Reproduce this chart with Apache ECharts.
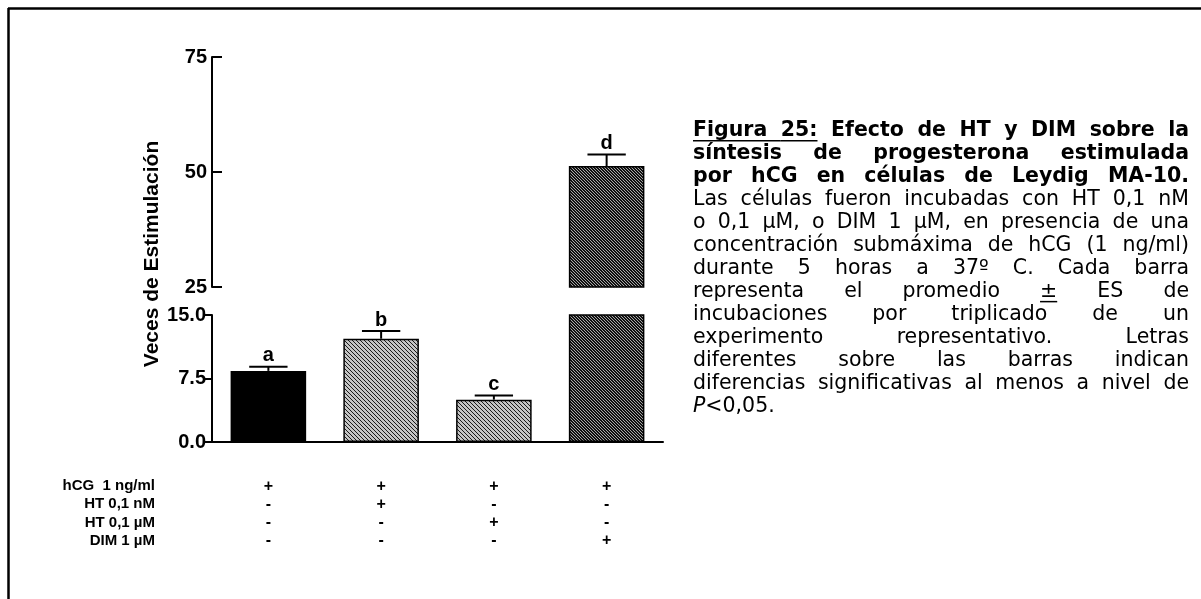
<!DOCTYPE html>
<html>
<head>
<meta charset="utf-8">
<script src="https://cdn.jsdelivr.net/npm/echarts@6/dist/echarts.min.js"></script>
<style>
  html, body { margin: 0; padding: 0; background: #ffffff; }
  #chart { width: 1201px; height: 599px; }
</style>
</head>
<body>
<div id="chart"></div>
<script>
// ---- data ----
const categories = ['hCG', 'hCG + HT 0,1 nM', 'hCG + HT 0,1 µM', 'hCG + DIM 1 µM'];
const meanValues = [8.4, 12.2, 5.0, 51.3];
const errorValues = [0.5, 0.9, 0.5, 2.5];
const sigLetters = ['a', 'b', 'c', 'd'];
const upperTicks = { min: 25, max: 75, interval: 25 };
const lowerTicks = { min: 0, max: 15, interval: 7.5 };
const treatmentRows = ['hCG  1 ng/ml', 'HT 0,1 nM', 'HT 0,1 µM', 'DIM 1 µM'];
const treatmentSigns = [
  ['+', '+', '+', '+'],
  ['-', '+', '-', '-'],
  ['-', '-', '+', '-'],
  ['-', '-', '-', '+']
];
const yAxisTitle = 'Veces de Estimulación';

// caption: _word_ = underlined, *x* = italic part
const captionLines = [
  { bold: true,  justify: true,  text: '_Figura_ _25:_ Efecto de HT y DIM sobre la' },
  { bold: true,  justify: true,  text: 'síntesis de progesterona estimulada' },
  { bold: true,  justify: true,  text: 'por hCG en células de Leydig MA-10.' },
  { bold: false, justify: true,  text: 'Las células fueron incubadas con HT 0,1 nM' },
  { bold: false, justify: true,  text: 'o 0,1 µM, o DIM 1 µM, en presencia de una' },
  { bold: false, justify: true,  text: 'concentración submáxima de hCG (1 ng/ml)' },
  { bold: false, justify: true,  text: 'durante 5 horas a 37º C. Cada barra' },
  { bold: false, justify: true,  text: 'representa el promedio _±_ ES de' },
  { bold: false, justify: true,  text: 'incubaciones por triplicado de un' },
  { bold: false, justify: true,  text: 'experimento representativo. Letras' },
  { bold: false, justify: true,  text: 'diferentes sobre las barras indican' },
  { bold: false, justify: true,  text: 'diferencias significativas al menos a nivel de' },
  { bold: false, justify: false, text: '*P*<0,05.' }
];

// ---- layout ----
const AXIS_FONT = '"Liberation Sans", Arial, sans-serif';
const CAPTION_FONT = '"DejaVu Sans", Verdana, sans-serif';
const CAP = { left: 693, right: 1189, top: 131, lineHeight: 23, size: 20.5 };
const GRID_LEFT = 212, GRID_RIGHT = 538;

function hatch(n, darkSet, dark, light) {
  const c = document.createElement('canvas');
  c.width = n; c.height = n;
  const ctx = c.getContext('2d');
  for (let y = 0; y < n; y++) {
    for (let x = 0; x < n; x++) {
      const k = ((x - y) % n + n) % n;
      ctx.fillStyle = darkSet.includes(k) ? dark : light;
      ctx.fillRect(x, y, 1, 1);
    }
  }
  return c;
}
const lightHatch = { image: hatch(4, [0], '#1a1a1a', '#c4c4c4'), repeat: 'repeat' };
const darkHatch = { image: hatch(3, [0, 1], '#111111', '#a8a8a8'), repeat: 'repeat' };
const barFills = ['#000000', lightHatch, lightHatch, darkHatch];

const barData = meanValues.map((v, i) => ({
  value: v,
  itemStyle: { color: barFills[i], borderColor: '#000', borderWidth: 1.5 }
}));
const errData = meanValues.map((v, i) => [i, v, errorValues[i]]);

function renderError(params, api) {
  const i = api.value(0), v = api.value(1), e = api.value(2);
  const cs = params.coordSys;
  const base = api.coord([i, v]);
  const top = api.coord([i, v + e]);
  if (top[1] < cs.y - 1 || top[1] > cs.y + cs.height + 1) return null;
  const capW = api.size([1, 0])[0] * 0.34;
  const yb = Math.min(base[1], cs.y + cs.height);
  return {
    type: 'group',
    children: [
      { type: 'line', shape: { x1: base[0], y1: yb, x2: top[0], y2: top[1] },
        style: { stroke: '#000', lineWidth: 2 } },
      { type: 'line', shape: { x1: top[0] - capW / 2, y1: top[1], x2: top[0] + capW / 2, y2: top[1] },
        style: { stroke: '#000', lineWidth: 2 } },
      { type: 'text', x: top[0], y: top[1] - 1,
        style: { text: sigLetters[i], fill: '#000', font: 'bold 20px ' + AXIS_FONT,
                 textAlign: 'center', textVerticalAlign: 'bottom', align: 'center', verticalAlign: 'bottom' } }
    ]
  };
}

function parseWord(raw) {
  let underline = false, w = raw;
  if (w.length > 2 && w[0] === '_' && w[w.length - 1] === '_') { underline = true; w = w.slice(1, -1); }
  const segs = [];
  const re = /\*([^*]+)\*/g;
  let last = 0, m;
  while ((m = re.exec(w))) {
    if (m.index > last) segs.push({ text: w.slice(last, m.index), italic: false });
    segs.push({ text: m[1], italic: true });
    last = m.index + m[0].length;
  }
  if (last < w.length) segs.push({ text: w.slice(last), italic: false });
  return { underline, segs };
}
function capFont(bold, italic) {
  return (italic ? 'italic ' : '') + (bold ? 'bold ' : '') + CAP.size + 'px ' + CAPTION_FONT;
}
function buildCaption() {
  const ctx = document.createElement('canvas').getContext('2d');
  const els = [];
  const width = CAP.right - CAP.left;
  captionLines.forEach((line, li) => {
    const words = line.text.split(/\s+/).map(parseWord);
    words.forEach(w => {
      w.w = 0;
      w.segs.forEach(s => { ctx.font = capFont(line.bold, s.italic); s.w = ctx.measureText(s.text).width; w.w += s.w; });
    });
    ctx.font = capFont(line.bold, false);
    const space = ctx.measureText(' ').width;
    const total = words.reduce((a, w) => a + w.w, 0);
    let gap = (line.justify && words.length > 1) ? (width - total) / (words.length - 1) : space;
    gap = Math.max(gap, space * 0.6);
    const y = CAP.top + li * CAP.lineHeight;
    let x = CAP.left;
    words.forEach((w, wi) => {
      let sx = x;
      w.segs.forEach(s => {
        els.push({ type: 'text', x: sx, y: y,
          style: { text: s.text, fill: '#000', font: capFont(line.bold, s.italic),
                   textAlign: 'left', textVerticalAlign: 'middle', align: 'left', verticalAlign: 'middle' } });
        sx += s.w;
      });
      if (w.underline) {
        const next = words[wi + 1];
        const x2 = (next && next.underline) ? x + w.w + gap : x + w.w;
        const uy = y + CAP.size * 0.47;
        els.push({ type: 'line', shape: { x1: x, y1: uy, x2: x2, y2: uy },
                   style: { stroke: '#000', lineWidth: 1.5 } });
      }
      x += w.w + gap;
    });
  });
  return els;
}

const chart = echarts.init(document.getElementById('chart'), null, { renderer: 'canvas' });

const rowLabelEls = treatmentRows.map((t, r) => ({
  type: 'text', x: 155, y: 486 + r * 18.3,
  style: { text: t, fill: '#000', font: 'bold 15px ' + AXIS_FONT,
           textAlign: 'right', textVerticalAlign: 'middle', align: 'right', verticalAlign: 'middle' }
}));

const frameEls = [
  { type: 'line', shape: { x1: 8, y1: 8.5, x2: 1201, y2: 8.5 }, style: { stroke: '#000', lineWidth: 2.5 } },
  { type: 'line', shape: { x1: 8.5, y1: 8, x2: 8.5, y2: 599 }, style: { stroke: '#000', lineWidth: 2.5 } }
];

const titleEl = {
  type: 'text', x: 152, y: 254, rotation: Math.PI / 2,
  style: { text: yAxisTitle, fill: '#000', font: 'bold 21px ' + AXIS_FONT,
           textAlign: 'center', textVerticalAlign: 'middle', align: 'center', verticalAlign: 'middle' }
};

const labelStyle = { color: '#000', fontFamily: AXIS_FONT, fontWeight: 'bold', fontSize: 20 };

const option = {
  backgroundColor: '#ffffff',
  animation: false,
  grid: [
    { left: GRID_LEFT, right: GRID_RIGHT, top: 57, height: 230 },
    { left: GRID_LEFT, right: GRID_RIGHT, top: 315, height: 127 }
  ],
  xAxis: [
    { type: 'category', gridIndex: 0, data: categories, show: false },
    { type: 'category', gridIndex: 1, data: categories,
      axisLine: { show: true, lineStyle: { color: '#000', width: 2 } },
      axisTick: { show: false },
      axisLabel: {
        interval: 0, margin: 35, lineHeight: 18.3,
        color: '#000', fontFamily: AXIS_FONT, fontWeight: 'bold', fontSize: 16,
        formatter: (v, idx) => treatmentSigns.map(row => row[idx]).join('\n')
      }
    }
  ],
  yAxis: [
    { type: 'value', gridIndex: 0, min: upperTicks.min, max: upperTicks.max, interval: upperTicks.interval,
      axisLine: { show: true, lineStyle: { color: '#000', width: 2 } },
      axisTick: { show: true, inside: true, length: 10, lineStyle: { color: '#000', width: 2 } },
      axisLabel: Object.assign({ margin: 5 }, labelStyle),
      splitLine: { show: false }
    },
    { type: 'value', gridIndex: 1, min: lowerTicks.min, max: lowerTicks.max, interval: lowerTicks.interval,
      axisLine: { show: true, lineStyle: { color: '#000', width: 2 } },
      axisTick: { show: true, inside: false, length: 7, lineStyle: { color: '#000', width: 2 } },
      axisLabel: Object.assign({ margin: 6, formatter: v => v.toFixed(1) }, labelStyle),
      splitLine: { show: false }
    }
  ],
  series: [
    { type: 'bar', xAxisIndex: 0, yAxisIndex: 0, data: barData, barWidth: '67%', clip: true, z: 2 },
    { type: 'bar', xAxisIndex: 1, yAxisIndex: 1, data: barData, barWidth: '67%', clip: true, z: 2 },
    { type: 'custom', xAxisIndex: 0, yAxisIndex: 0, data: errData, renderItem: renderError, z: 3 },
    { type: 'custom', xAxisIndex: 1, yAxisIndex: 1, data: errData, renderItem: renderError, z: 3 }
  ],
  graphic: { elements: frameEls.concat([titleEl], rowLabelEls, buildCaption()) }
};

chart.setOption(option);
</script>
</body>
</html>
